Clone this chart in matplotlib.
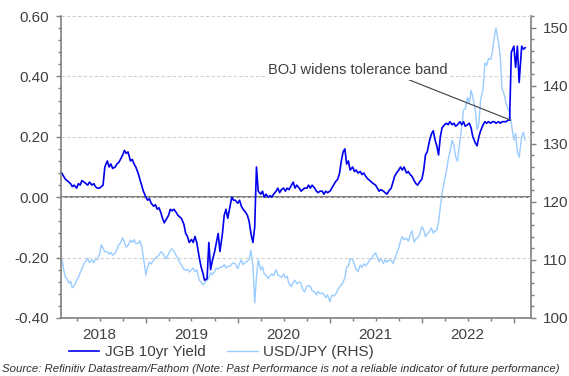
import datetime as dt
import matplotlib
matplotlib.use('Agg')
import matplotlib.pyplot as plt
import matplotlib.dates as mdates
from matplotlib.ticker import MultipleLocator

plt.rcParams['font.family'] = ['Liberation Sans', 'DejaVu Sans']

# ---------------- data ----------------
start_year, start_month = 2018, 2
obs_days = [1, 8, 15, 22]          # four observations per month

jgb_yield = [
    # 2018 Feb - Dec
    0.080, 0.070, 0.060, 0.055,
    0.050, 0.045, 0.035, 0.040,
    0.030, 0.045, 0.040, 0.055,
    0.050, 0.045, 0.040, 0.050,
    0.040, 0.045, 0.035, 0.030,
    0.030, 0.035, 0.040, 0.100,
    0.120, 0.100, 0.110, 0.095,
    0.100, 0.110, 0.115, 0.125,
    0.140, 0.155, 0.145, 0.150,
    0.120, 0.125, 0.110, 0.100,
    0.080, 0.060, 0.040, 0.020,
    # 2019
    0.000, -0.010, -0.005, -0.020,
    -0.030, -0.025, -0.040, -0.035,
    -0.050, -0.070, -0.085, -0.075,
    -0.060, -0.040, -0.045, -0.040,
    -0.050, -0.060, -0.065, -0.070,
    -0.090, -0.120, -0.130, -0.150,
    -0.140, -0.150, -0.130, -0.150,
    -0.200, -0.230, -0.250, -0.275,
    -0.270, -0.150, -0.240, -0.210,
    -0.180, -0.150, -0.120, -0.180,
    -0.120, -0.060, -0.040, -0.070,
    -0.030, 0.000, -0.010, -0.010,
    # 2020
    -0.020, -0.010, -0.030, -0.040,
    -0.050, -0.060, -0.080, -0.120,
    -0.150, -0.100, 0.100, 0.020,
    0.010, 0.020, 0.000, 0.010,
    0.000, 0.005, 0.000, 0.010,
    0.020, 0.030, 0.015, 0.025,
    0.030, 0.020, 0.030, 0.025,
    0.040, 0.050, 0.030, 0.040,
    0.030, 0.020, 0.025, 0.030,
    0.030, 0.040, 0.030, 0.040,
    0.030, 0.020, 0.015, 0.020,
    0.020, 0.010, 0.020, 0.015,
    # 2021
    0.020, 0.030, 0.040, 0.050,
    0.060, 0.080, 0.120, 0.150,
    0.160, 0.110, 0.120, 0.090,
    0.100, 0.085, 0.090, 0.080,
    0.085, 0.075, 0.080, 0.070,
    0.060, 0.055, 0.050, 0.045,
    0.040, 0.030, 0.020, 0.025,
    0.020, 0.015, 0.010, 0.020,
    0.030, 0.050, 0.070, 0.080,
    0.090, 0.100, 0.090, 0.100,
    0.080, 0.085, 0.075, 0.070,
    0.055, 0.045, 0.040, 0.050,
    # 2022
    0.060, 0.090, 0.140, 0.150,
    0.190, 0.210, 0.220, 0.190,
    0.170, 0.140, 0.200, 0.230,
    0.240, 0.245, 0.240, 0.250,
    0.240, 0.245, 0.235, 0.240,
    0.250, 0.240, 0.250, 0.235,
    0.240, 0.245, 0.230, 0.200,
    0.180, 0.170, 0.200, 0.220,
    0.240, 0.250, 0.245, 0.250,
    0.245, 0.250, 0.250, 0.245,
    0.250, 0.245, 0.250, 0.250,
    0.250, 0.255, 0.255, 0.480,
    # 2023 Jan - Feb
    0.500, 0.430, 0.500, 0.380,
    0.500, 0.490, 0.495,
]

usd_jpy = [
    # 2018 Feb - Dec
    110.3, 108.5, 107.0, 106.8,
    106.0, 106.3, 105.2, 105.5,
    106.5, 107.0, 107.8, 108.5,
    109.4, 109.8, 110.3, 109.5,
    110.0, 109.5, 110.3, 110.0,
    111.0, 112.6, 112.0, 111.4,
    111.4, 111.0, 111.3, 110.8,
    111.2, 111.8, 112.6, 112.9,
    113.8, 113.0, 112.2, 112.5,
    113.4, 113.0, 113.5, 112.8,
    112.9, 113.3, 112.4, 110.5,
    # 2019
    107.4, 108.8, 109.6, 109.3,
    110.0, 110.3, 110.6, 110.8,
    111.4, 111.2, 110.7, 110.2,
    111.0, 111.7, 111.9, 111.5,
    110.8, 110.3, 109.6, 109.1,
    108.4, 108.2, 108.4, 107.9,
    108.3, 108.6, 108.0, 108.3,
    106.5, 106.2, 105.7, 106.0,
    106.5, 106.9, 107.8, 107.5,
    108.0, 108.6, 108.4, 108.7,
    108.8, 109.2, 108.6, 108.9,
    108.9, 109.3, 109.5, 109.3,
    # 2020
    108.5, 109.4, 110.0, 109.2,
    109.6, 109.8, 110.1, 111.7,
    108.9, 102.6, 107.0, 110.0,
    108.3, 108.8, 107.6, 107.4,
    106.8, 107.3, 107.6, 107.3,
    108.3, 107.4, 107.2, 107.0,
    107.6, 106.9, 107.2, 105.9,
    105.4, 106.2, 106.5, 105.9,
    106.2, 106.0, 104.9, 104.5,
    105.4, 105.6, 105.4, 104.7,
    104.5, 104.0, 104.6, 104.2,
    104.3, 104.1, 103.5, 104.0,
    # 2021
    102.8, 103.9, 103.8, 104.0,
    104.8, 105.4, 105.7, 106.2,
    106.9, 108.8, 108.9, 110.3,
    110.0, 109.2, 108.3, 108.0,
    109.1, 108.7, 109.3, 109.0,
    109.5, 110.0, 110.2, 110.8,
    111.2, 110.4, 109.7, 110.3,
    109.4, 110.0, 109.6, 110.0,
    109.9, 109.4, 110.2, 111.1,
    112.0, 113.3, 114.0, 113.5,
    113.7, 113.2, 114.2, 115.0,
    113.1, 113.6, 113.8, 114.3,
    # 2022
    115.7, 115.2, 114.0, 114.5,
    115.0, 115.5, 114.6, 115.0,
    115.1, 116.5, 119.1, 121.5,
    123.8, 125.2, 127.2, 128.5,
    130.6, 129.8, 127.7, 127.0,
    130.5, 132.9, 135.8, 136.0,
    138.0, 137.0, 139.2, 138.0,
    135.8, 132.4, 133.5, 137.5,
    139.5, 143.9, 143.5, 144.7,
    144.5, 145.9, 148.4, 149.9,
    147.5, 145.0, 139.5, 138.7,
    137.0, 136.0, 135.5, 133.5,
    # 2023 Jan - Feb
    130.6, 131.8, 128.5, 127.7,
    131.2, 132.0, 130.6,
]

year_labels = ['2018', '2019', '2020', '2021', '2022']
series_names = ['JGB 10yr Yield', 'USD/JPY (RHS)']
annot_text = 'BOJ widens tolerance band'
annot_date = dt.date(2022, 12, 20)
annot_value = 0.255
annot_text_date = dt.date(2021, 4, 22)
annot_text_value = 0.42
source_text = ('Source: Refinitiv Datastream/Fathom (Note: Past Performance '
               'is not a reliable indicator of future performance)')


def build_dates(n):
    dates = []
    y, m = start_year, start_month
    while len(dates) < n:
        for d in obs_days:
            dates.append(dt.date(y, m, d))
        m += 1
        if m > 12:
            m = 1
            y += 1
    return dates[:n]


jgb_dates = build_dates(len(jgb_yield))
fx_dates = build_dates(len(usd_jpy))

# ---------------- figure ----------------
fig = plt.figure(figsize=(5.69, 3.76), dpi=100)
ax = fig.add_axes([0.1072, 0.1543, 0.826, 0.8031])
ax2 = ax.twinx()
ax.set_zorder(ax2.get_zorder() + 1)
ax.patch.set_visible(False)

jgb_color = '#0000EE'
fx_color = '#99CCFF'
spine_color = '#7f7f7f'
text_color = '#404040'

l2, = ax2.plot(fx_dates, usd_jpy, color=fx_color, lw=1.0)
l1, = ax.plot(jgb_dates, jgb_yield, color=jgb_color, lw=1.2)

ax.set_ylim(-0.40, 0.60)
ax2.set_ylim(100, 152)
ax.set_xlim(dt.date(2018, 1, 29), dt.date(2023, 3, 10))

ax.set_yticks([-0.4, -0.2, 0.0, 0.2, 0.4, 0.6])
ax.yaxis.set_minor_locator(MultipleLocator(0.04))
ax.set_yticklabels(['-0.40', '-0.20', '0.00', '0.20', '0.40', '0.60'])
ax2.set_yticks([100, 110, 120, 130, 140, 150])
ax2.yaxis.set_minor_locator(MultipleLocator(2))

ax.grid(axis='y', color='#d0d0d0', linestyle=(0, (3, 2)), lw=0.8)
ax.axhline(0, color='#6e6e6e', lw=1.3, zorder=1.5)

# x ticks
ax.xaxis.set_major_locator(mdates.YearLocator())
ax.xaxis.set_minor_locator(mdates.MonthLocator(bymonth=[4, 7, 10]))
ax.xaxis.set_major_formatter(plt.NullFormatter())
ax.tick_params(axis='x', which='major', length=3.5, width=1, color=spine_color)
ax.tick_params(axis='x', which='minor', length=2.5, width=1, color=spine_color)

sec = ax.secondary_xaxis('bottom')
sec.set_xticks([dt.date(int(y), 7, 1) for y in year_labels])
sec.set_xticklabels(year_labels)
sec.tick_params(length=0, pad=7.5, labelsize=11, labelcolor=text_color)
for s in sec.spines.values():
    s.set_visible(False)

ax.tick_params(axis='y', which='major', length=3.5, width=1, color=spine_color,
               labelsize=11, labelcolor=text_color, pad=5)
ax.tick_params(axis='y', which='minor', length=2, width=1, color=spine_color)
ax2.tick_params(axis='y', which='major', length=3.5, width=1, color=spine_color,
                labelsize=11, labelcolor=text_color, pad=5)
ax2.tick_params(axis='y', which='minor', length=2, width=1, color=spine_color)

for a in (ax, ax2):
    a.spines['top'].set_visible(False)
    for s in a.spines.values():
        s.set_color(spine_color)
        s.set_linewidth(1.2)
ax.spines['right'].set_visible(False)
ax2.spines['left'].set_visible(False)
ax2.spines['bottom'].set_visible(False)

ax.annotate(annot_text, xy=(annot_date, annot_value),
            xytext=(annot_text_date, annot_text_value),
            ha='center', va='center', fontsize=10.5, color=text_color,
            bbox=dict(boxstyle='square,pad=0.15', fc='white', ec='none'),
            arrowprops=dict(arrowstyle='-', color='#404040', lw=0.8,
                            relpos=(0.75, 0.0), shrinkA=0, shrinkB=0),
            zorder=5)

fig.legend([l1, l2], series_names, loc='center left',
           bbox_to_anchor=(0.097, 0.063), ncol=2, frameon=False,
           fontsize=11, handlelength=2.0, handletextpad=0.35,
           columnspacing=1.4, labelcolor=text_color)

fig.text(0.003, 0.004, source_text, fontsize=8.2, style='italic',
         color='#303030', ha='left', va='bottom')

fig.savefig('out.png', dpi=100)
